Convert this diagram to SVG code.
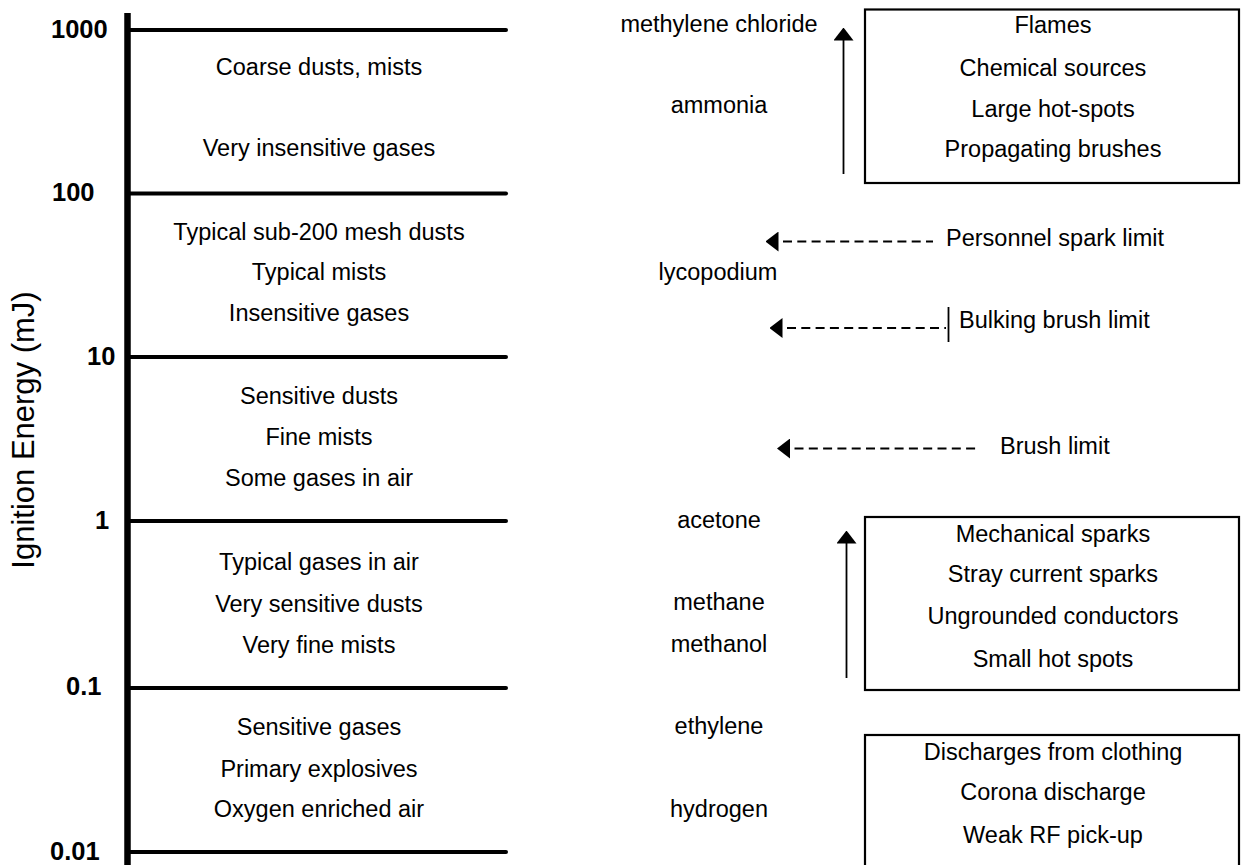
<svg xmlns="http://www.w3.org/2000/svg" width="1241" height="865" viewBox="0 0 1241 865">
<style>
text{font-family:"Liberation Sans",Arial,Helvetica,sans-serif;fill:#000}
.t{font-size:23.5px}
.c{text-anchor:middle}
.n{font-size:25.5px;font-weight:bold}
.ttl{font-size:31px;text-anchor:middle}
.grid{stroke:#000;stroke-width:4;stroke-linecap:round;fill:none}
.box{fill:none;stroke:#000;stroke-width:2.2}
.shaft{stroke:#000;stroke-width:1.8;fill:none}
.dash{stroke:#000;stroke-width:2;fill:none;stroke-dasharray:9 5.3}
</style>
<defs>
<marker id="ah" viewBox="0 0 13 20" refX="0.5" refY="10" markerWidth="13" markerHeight="20" markerUnits="userSpaceOnUse" orient="auto"><path d="M0,0 L13,10 L0,20 z" fill="#000"/></marker>
<marker id="ahg" viewBox="0 0 13 20" refX="-4.5" refY="10" markerWidth="13" markerHeight="20" markerUnits="userSpaceOnUse" orient="auto-start-reverse"><path d="M0,0 L13,10 L0,20 z" fill="#000"/></marker>
</defs>
<rect width="1241" height="865" fill="#fff"/>

<g id="axis">
<text class="ttl" transform="translate(33.5,430) rotate(-90)">Ignition Energy (mJ)</text>
<line x1="127.5" y1="13" x2="127.5" y2="865" stroke="#000" stroke-width="6.5"/>
<line class="grid" x1="130" y1="30" x2="506" y2="30"/>
<line class="grid" x1="130" y1="193.5" x2="506" y2="193.5"/>
<line class="grid" x1="130" y1="357" x2="506" y2="357"/>
<line class="grid" x1="130" y1="521" x2="506" y2="521"/>
<line class="grid" x1="130" y1="688" x2="506" y2="688"/>
<line class="grid" x1="130" y1="852" x2="506" y2="852"/>
<text class="n" x="51" y="37.5">1000</text>
<text class="n" x="52" y="201">100</text>
<text class="n" x="87" y="364.5">10</text>
<text class="n" x="95" y="528.5">1</text>
<text class="n" x="66" y="695">0.1</text>
<text class="n" x="50" y="859.5">0.01</text>
</g>

<g id="band-1000">
<text class="t c" x="319" y="75">Coarse dusts, mists</text>
<text class="t c" x="319" y="156">Very insensitive gases</text>
</g>
<g id="band-100">
<text class="t c" x="319" y="239.5">Typical sub-200 mesh dusts</text>
<text class="t c" x="319" y="280">Typical mists</text>
<text class="t c" x="319" y="321">Insensitive gases</text>
</g>
<g id="band-10">
<text class="t c" x="319" y="404">Sensitive dusts</text>
<text class="t c" x="319" y="445">Fine mists</text>
<text class="t c" x="319" y="486">Some gases in air</text>
</g>
<g id="band-1">
<text class="t c" x="319" y="570">Typical gases in air</text>
<text class="t c" x="319" y="612">Very sensitive dusts</text>
<text class="t c" x="319" y="653">Very fine mists</text>
</g>
<g id="band-01">
<text class="t c" x="319" y="735">Sensitive gases</text>
<text class="t c" x="319" y="776.5">Primary explosives</text>
<text class="t c" x="319" y="817">Oxygen enriched air</text>
</g>

<g id="substances">
<text class="t c" x="719" y="31.5">methylene chloride</text>
<text class="t c" x="719" y="113">ammonia</text>
<text class="t c" x="718" y="279.5">lycopodium</text>
<text class="t c" x="719" y="528">acetone</text>
<text class="t c" x="719" y="609.5">methane</text>
<text class="t c" x="719" y="651.5">methanol</text>
<text class="t c" x="719" y="734">ethylene</text>
<text class="t c" x="719" y="817">hydrogen</text>
</g>

<g id="box-high">
<rect class="box" x="865" y="9.5" width="374" height="173.5"/>
<text class="t c" x="1053" y="33">Flames</text>
<text class="t c" x="1053" y="76">Chemical sources</text>
<text class="t c" x="1053" y="116.5">Large hot-spots</text>
<text class="t c" x="1053" y="156.5">Propagating brushes</text>
</g>
<g id="box-mid">
<rect class="box" x="865" y="517" width="374" height="173"/>
<text class="t c" x="1053" y="542">Mechanical sparks</text>
<text class="t c" x="1053" y="582">Stray current sparks</text>
<text class="t c" x="1053" y="624">Ungrounded conductors</text>
<text class="t c" x="1053" y="667">Small hot spots</text>
</g>
<g id="box-low">
<rect class="box" x="865" y="735" width="374" height="150"/>
<text class="t c" x="1053" y="759.5">Discharges from clothing</text>
<text class="t c" x="1053" y="799.5">Corona discharge</text>
<text class="t c" x="1053" y="843">Weak RF pick-up</text>
</g>

<g id="limits">
<text class="t" x="946" y="246">Personnel spark limit</text>
<text class="t" x="959" y="327.5">Bulking brush limit</text>
<text class="t" x="1000" y="454">Brush limit</text>
</g>

<g id="connectors">
<path class="shaft" d="M843.5,174 L843.5,40" marker-end="url(#ah)"/>
<path class="shaft" d="M846.5,678 L846.5,543" marker-end="url(#ah)"/>
<path class="dash" d="M783,241.5 L933,241.5" marker-start="url(#ahg)"/>
<path class="dash" d="M787,328 L946,328" marker-start="url(#ahg)"/>
<line class="shaft" x1="948.5" y1="307" x2="948.5" y2="342"/>
<path class="dash" d="M794.5,448.5 L980,448.5" marker-start="url(#ahg)"/>
</g>
</svg>
